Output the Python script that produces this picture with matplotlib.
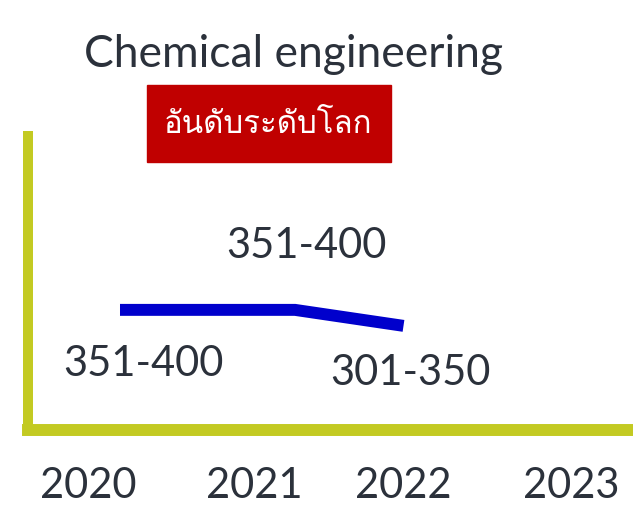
import numpy as np
import matplotlib
matplotlib.use("Agg")
import matplotlib.pyplot as plt
from matplotlib import font_manager as fm
from matplotlib.ft2font import FT2Font

# pick an installed family that can draw Thai (Loma looks closest to the source)
thai_fonts = []
for f in fm.fontManager.ttflist:
    try:
        if 0x0E2D in FT2Font(f.fname).get_charmap() and f.name not in thai_fonts:
            thai_fonts.append(f.name)
    except Exception:
        pass
THAI = (["Loma"] if "Loma" in thai_fonts else thai_fonts[:1]) + ["DejaVu Sans"]

title = "Chemical engineering"
badge = "อันดับระดับโลก"
years = ["2020", "2021", "2022", "2023"]
year_tick_x = [2019.82, 2020.77, 2021.62, 2022.58]   # label slots as laid out in the source
pts_x = [2020.0, 2021.0, 2021.62]                    # points are unevenly spaced in the source
rank_labels = ["351-400", "351-400", "301-350"]
rank_mid = [375.5, 375.5, 325.5]
label_off = [(17, -47), (8, 38), (5, -42)]           # offset points for each label

TXT = "#2b313b"; AXC = "#c3ca22"; LINE = "#0000cc"; RED = "#c00000"
plt.rcParams["font.family"] = ["Lato", "DejaVu Sans"]

fig = plt.figure(figsize=(6.33, 5.06), dpi=100)
ax = fig.add_axes([28 / 633, 75 / 506, 615 / 633, 294 / 506])
ax.set_xlim(2019.4743, 2019.4743 + 615 / 175)
ax.set_ylim(0, 919)
for s in ("top", "right"):
    ax.spines[s].set_visible(False)
ax.spines["left"].set_color(AXC); ax.spines["left"].set_linewidth(7.2)
ax.spines["bottom"].set_color(AXC); ax.spines["bottom"].set_linewidth(8.6)
ax.set_yticks([])
ax.set_xticks(year_tick_x, years, fontsize=30, color=TXT)
ax.tick_params(axis="x", length=0, pad=48)
for t in ax.get_xticklabels():
    t.set_va("baseline")

ax.plot(pts_x, rank_mid, color=LINE, lw=8.6, solid_capstyle="butt", solid_joinstyle="miter")
for x, y, lab, off in zip(pts_x, rank_mid, rank_labels, label_off):
    ax.annotate(lab, (x, y), xytext=off, textcoords="offset points", ha="center",
                va="baseline", fontsize=30, color=TXT)

fig.text(293 / 633, 439 / 506, title, ha="center", va="baseline", fontsize=32, color=TXT)
fig.patches.append(plt.Rectangle((147 / 633, 343 / 506), 244 / 633, 77 / 506,
                                 transform=fig.transFigure, color=RED, zorder=0))
fig.text(268 / 633, 373 / 506, badge, ha="center", va="baseline", fontsize=22.5,
         color="white", family=THAI)

fig.savefig("out.png", dpi=100)
